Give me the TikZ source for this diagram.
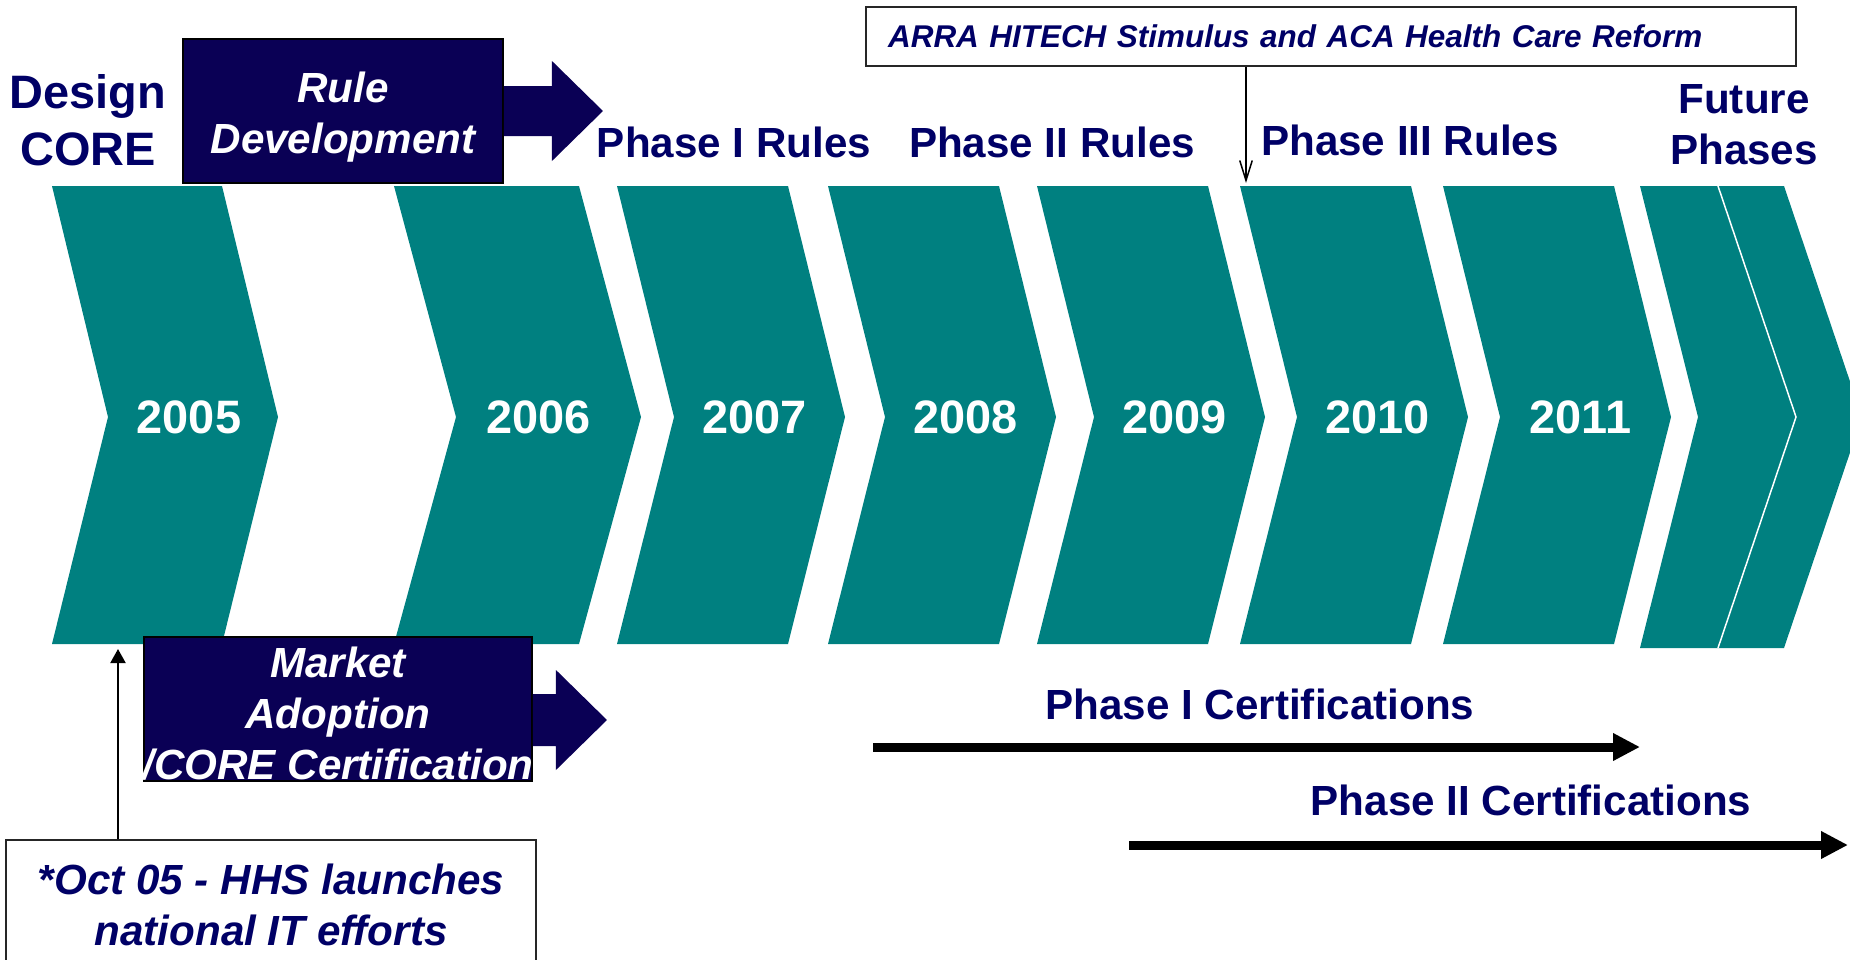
\documentclass[tikz,border=0pt]{standalone}
\usepackage{fontspec}
\setmainfont{Liberation Sans}
\usetikzlibrary{positioning}
\usetikzlibrary{calc}
\usetikzlibrary{arrows.meta}
\definecolor{chevron}{RGB}{0,128,128}
\definecolor{navytext}{RGB}{0,0,102}
\definecolor{navybox}{RGB}{10,0,85}

\begin{document}
\begin{tikzpicture}[x=0.02cm, y=-0.02cm,
        year/.style={text=white, font=\bfseries\fontsize{26.7}{32}\selectfont},
        phaselabel/.style={text=navytext, align=center, font=\bfseries\fontsize{24}{29}\selectfont},
        darkbox/.style={draw=black, line width=0.04cm, fill=navybox, inner sep=0pt},
        boxtext/.style={text=white, align=center, font=\bfseries\itshape\fontsize{24}{29}\selectfont},
        notebox/.style={draw=black!85, line width=0.04cm, fill=white, text=navytext, inner sep=0pt},
        certarrow/.style={line width=0.18cm, -{Triangle[length=0.54cm,width=0.52cm]}}]
    \useasboundingbox (0,0) rectangle (1850,960);
    \clip (0,0) rectangle (1850,960);

    % one chevron per year: left x / width / point depth / year
    \foreach \x/\w/\d/\yr in {52/170/56/2005, 394/185/62/2006, 617/171/57/2007, 828/171/57/2008,
            1037/171/57/2009, 1240/171/57/2010, 1443/171/57/2011}{
        \fill[chevron] (\x,186) -- ++(\w,0) -- ++(\d,231) -- ++(-\d,227) -- ++(-\w,0) -- ++(\d,-227) -- cycle;
        \node[year] (y\yr) at (\x+\w/2+52,417) {\yr};
    }
    \fill[chevron] (1640,186) -- (1718,186) -- (1796,417) -- (1718,648) -- (1640,648) -- (1698,417) -- cycle;
    \fill[chevron] (1718,186) -- (1784,186) -- (1862,417) -- (1784,648) -- (1718,648) -- (1796,417) -- cycle;
    \draw[white, line width=0.03cm] (1718,186) -- (1796,417) -- (1718,648);

    \node[phaselabel, font=\bfseries\fontsize{26.7}{32.4}\selectfont] (design) at (88,120) {Design\\CORE};
    \node[phaselabel] (ph1) at (734,142) {Phase I Rules};
    \node[phaselabel] (ph2) at (1052,142) {Phase II Rules};
    \node[phaselabel] (ph3) at (1410,140) {Phase III Rules};
    \node[phaselabel] (future) at (1744,125) {Future\\Phases};

    \node[darkbox, minimum width=6.4cm, minimum height=2.9cm] (rule) at (343,111) {};
    \node[boxtext] (ruletext) at ($(rule.center)+(0,6)$) {Rule\\Development};
    \fill[navybox] ($(rule.east)+(0,-25)$) -- ++(48,0) -- ++(0,-25) -- ++(51,50) -- ++(-51,50) -- ++(0,-25) -- ++(-48,0) -- cycle;

    \node[darkbox, minimum width=7.76cm, minimum height=2.88cm] (market) at (338,709) {};
    \node[boxtext] (markettext) at ($(market.center)+(0,5)$) {Market\\Adoption\\\makebox[0pt]{/CORE Certification}};
    \fill[navybox] ($(market.east)+(0,-15)$) -- ++(23,0) -- ++(0,-24) -- ++(51,50) -- ++(-51,50) -- ++(0,-24) -- ++(-23,0) -- cycle;

    \node[notebox, minimum width=10.6cm, minimum height=2.6cm, align=center,
        font=\bfseries\itshape\fontsize{24}{29}\selectfont] (oct) at (271,905) {*Oct 05 - HHS launches\\national IT efforts};
    \coordinate (launch) at (118,649);
    \draw[line width=0.04cm, -{Triangle[length=0.28cm,width=0.3cm]}] (oct.north -| launch) -- (launch);

    \node[notebox, minimum height=1.18cm, text width=17.72cm, inner xsep=0.44cm, align=left,
        font=\bfseries\itshape\fontsize{17.9}{22}\selectfont] (arra) at (1331,36.5) {ARRA HITECH Stimulus and ACA Health Care Reform};
    \coordinate (hitech) at (1246,183);
    \draw[line width=0.03cm, -{Straight Barb[length=0.4cm,width=0.25cm]}] (arra.south -| hitech) -- (hitech);

    \node[phaselabel] (cert1) at (1260,704) {Phase I Certifications};
    \coordinate (c1from) at (873,747);
    \coordinate (c1to) at (1640,747);
    \draw[certarrow] (c1from) -- (c1to);

    \node[phaselabel] (cert2) at (1531,800) {Phase II Certifications};
    \coordinate (c2from) at (1129,845);
    \coordinate (c2to) at (1848,845);
    \draw[certarrow] (c2from) -- (c2to);
\end{tikzpicture}
\end{document}
